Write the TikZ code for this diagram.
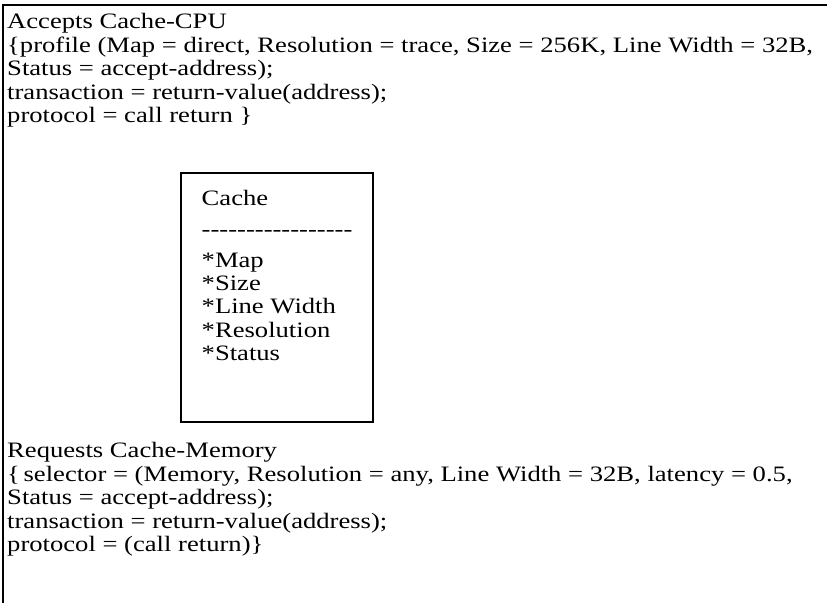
\documentclass[tikz,border=0pt]{standalone}
\usepackage{fontspec}
\setmainfont{Liberation Serif}[FakeStretch=1.21,Ligatures=TeXOff]
\begin{document}
\begin{tikzpicture}[x=1pt,y=-1pt,
  txt/.style={anchor=base west,inner sep=0pt,font=\fontsize{22}{24}\selectfont},
  frame/.style={line width=2pt},
  cbox/.style={line width=1.3pt}]
\useasboundingbox (0,0) rectangle (827,603);
\draw[frame] (827,5) -- (3,5) -- (3,603);
% top block
\node[txt] (a1) at (7,28.5) {Accepts Cache-CPU};
\node[txt] (a2) at (7,52) {\{profile (Map = direct, Resolution = trace, Size = 256K, Line Width = 32B,};
\node[txt] (a3) at (7,75.5) {Status = accept-address);};
\node[txt] (a4) at (7,99) {transaction = return-value(address);};
\node[txt] (a5) at (7,122.5) {protocol = call return \}};
% cache box
\draw[cbox] (181,173) rectangle (373,422);
\node[txt] (c1) at (201.5,205) {Cache};
\node[txt] (c2) at (201.5,236) {-----------------};
\node[txt] (c3) at (201.5,267) {*Map};
\node[txt] (c4) at (201.5,290.3) {*Size};
\node[txt] (c5) at (201.5,313.6) {*Line Width};
\node[txt] (c6) at (201.5,337) {*Resolution};
\node[txt] (c7) at (201.5,360.3) {*Status};
% bottom block
\node[txt] (b1) at (7,457.5) {Requests Cache-Memory};
\node[txt] (b2) at (7,481) {\{\,selector = (Memory, Resolution = any, Line Width = 32B, latency = 0.5,};
\node[txt] (b3) at (7,504.5) {Status = accept-address);};
\node[txt] (b4) at (7,528) {transaction = return-value(address);};
\node[txt] (b5) at (7,551.5) {protocol = (call return)\}};
\end{tikzpicture}
\end{document}
